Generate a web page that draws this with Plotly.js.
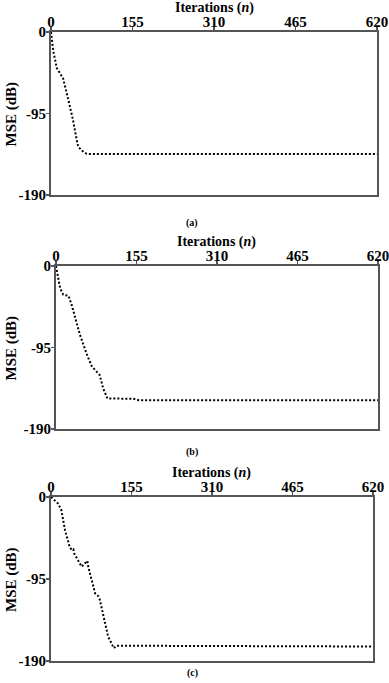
<!DOCTYPE html>
<html>
<head>
<meta charset="utf-8">
<script src="https://cdn.plot.ly/plotly-3.0.1.min.js"></script>
<style>html,body{margin:0;padding:0;background:#fff;}#chart{width:389px;height:683px;}</style>
</head>
<body>
<div id="chart"></div>
<script>
// Panel (a)
const nA = [0, 4, 11, 20, 23, 33, 42, 49, 52, 62, 68, 80, 150, 300, 450, 620];
const mseA = [0, -21, -42, -50, -54, -79, -103, -126, -134, -140, -142, -142.3, -142.3, -142.3, -142.3, -142.3];
// Panel (b)
const nB = [0, 8, 14, 24, 30, 46, 60, 69, 84, 91, 99, 120, 149, 160, 300, 450, 620];
const mseB = [0, -26, -33.5, -34.7, -45, -80, -104, -117, -127, -143, -154.5, -154.5, -154.7, -156.5, -156.5, -156.5, -156.5];
// Panel (c)
const nC = [0, 14, 20, 27, 36, 40, 43, 45, 59, 70, 72, 85, 91, 94, 110, 121, 126, 200, 400, 620];
const mseC = [0, -7.7, -15.4, -38.5, -57.8, -61.4, -60.6, -66, -80.7, -74, -81.5, -111.6, -114.7, -119, -161.8, -175, -172.3, -172.5, -172.8, -173.2];

const xTicks = [0, 155, 310, 465, 620];
const yTicks = [0, -95, -190];
const panelLabels = ['(a)', '(b)', '(c)'];
const xTitle = 'Iterations (<i>n</i>)';
const yTitle = 'MSE (dB)';

const W = 389, H = 683;
const boxes = [
  {x0: 51, x1: 377, y0: 32, y1: 195, lab: 223, tit: 8},
  {x0: 56, x1: 378, y0: 266, y1: 429, lab: 452, tit: 241.5},
  {x0: 51, x1: 373, y0: 497, y1: 661, lab: 673, tit: 473}
];
const series = [[nA, mseA], [nB, mseB], [nC, mseC]];

const font = 'Liberation Serif, Times New Roman, serif';
const axisColor = '#555';
const data = [];
const layout = {
  width: W, height: H,
  margin: {l: 0, r: 0, t: 0, b: 0},
  paper_bgcolor: '#fff', plot_bgcolor: '#fff',
  showlegend: false,
  font: {family: font, color: '#000'},
  annotations: []
};
series.forEach((s, i) => {
  const k = i === 0 ? '' : String(i + 1);
  data.push({
    x: s[0], y: s[1], type: 'scatter', mode: 'lines',
    xaxis: 'x' + k, yaxis: 'y' + k,
    line: {color: '#000', width: 2, dash: '2px,2px'},
    hoverinfo: 'skip'
  });
  const b = boxes[i];
  layout['xaxis' + k] = {
    domain: [b.x0 / W, b.x1 / W], anchor: 'y' + k, side: 'top',
    range: [0, 620], tickvals: xTicks, ticktext: xTicks.map(v => '<b>' + v + '</b>'),
    showline: true, linecolor: axisColor, linewidth: 2, mirror: true,
    ticks: 'outside', ticklen: 3, tickwidth: 1.5, tickcolor: axisColor,
    showgrid: false, zeroline: false, ticklabeloverflow: 'allow',
    ticklabelstandoff: -6,
    tickfont: {family: font, size: 15, color: '#000'}
  };
  layout['yaxis' + k] = {
    domain: [1 - b.y1 / H, 1 - b.y0 / H], anchor: 'x' + k,
    range: [-190, 0], tickvals: yTicks, ticktext: yTicks.map(v => '<b>' + v + '</b>'),
    showline: true, linecolor: axisColor, linewidth: 2, mirror: true,
    ticks: 'outside', ticklen: 3, tickwidth: 1.5, tickcolor: axisColor,
    showgrid: false, zeroline: false, ticklabeloverflow: 'allow',
    ticklabelstandoff: -3,
    tickfont: {family: font, size: 15, color: '#000'}
  };
  layout.annotations.push({
    text: '<b>' + xTitle + '</b>', xref: 'paper', yref: 'paper',
    x: (b.x0 + b.x1) / 2 / W, y: 1 - b.tit / H, showarrow: false,
    xanchor: 'center', yanchor: 'middle', font: {family: font, size: 14, color: '#000'}
  });
  layout.annotations.push({
    text: '<b>' + yTitle + '</b>', xref: 'paper', yref: 'paper', textangle: -90,
    x: 11 / W, y: 1 - ((b.y0 + b.y1) / 2 + 1) / H, showarrow: false,
    xanchor: 'center', yanchor: 'middle', font: {family: font, size: 15, color: '#000'}
  });
  layout.annotations.push({
    text: '<b>' + panelLabels[i] + '</b>', xref: 'paper', yref: 'paper',
    x: 192 / W, y: 1 - b.lab / H, showarrow: false,
    xanchor: 'center', yanchor: 'middle', font: {family: font, size: 10, color: '#000'}
  });
});
Plotly.newPlot('chart', data, layout, {staticPlot: true, displayModeBar: false});
</script>
</body>
</html>
